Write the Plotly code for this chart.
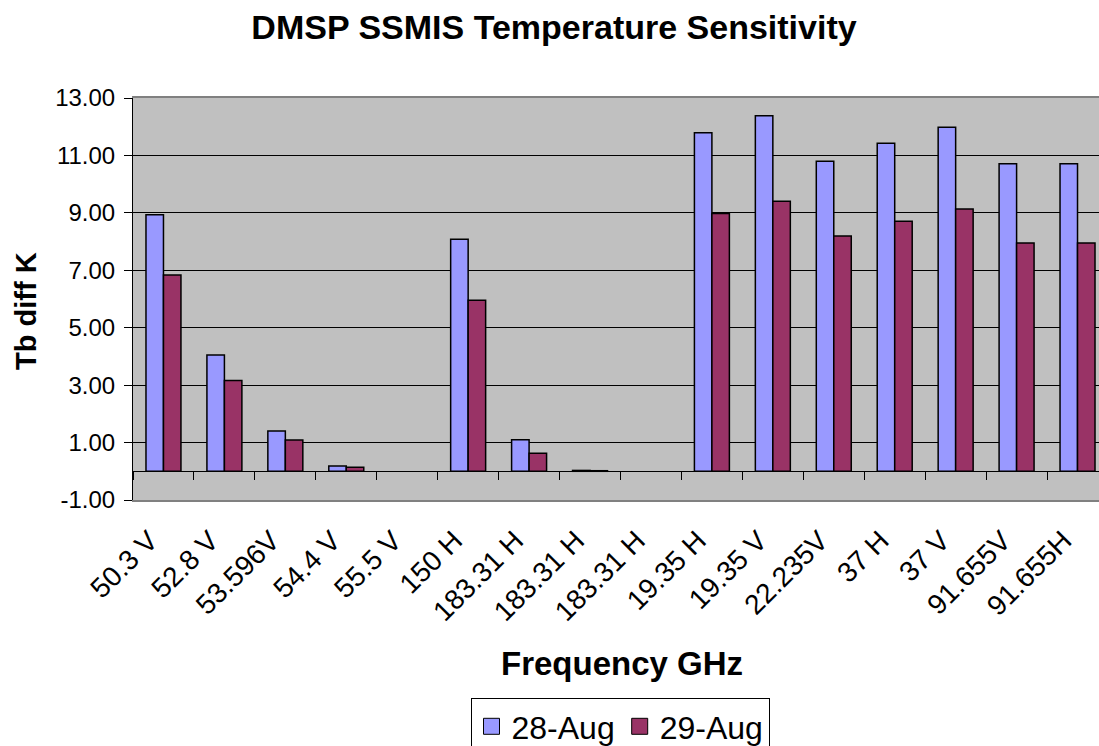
import plotly.graph_objects as go

# Channel labels (several frequencies repeat, so the axis is positional)
channels = ["50.3 V", "52.8 V", "53.596V", "54.4 V", "55.5 V", "150 H",
            "183.31 H", "183.31 H", "183.31 H", "19.35 H", "19.35 V",
            "22.235V", "37 H", "37 V", "91.655V", "91.655H"]

# Brightness-temperature differences (K)
aug28 = [8.93, 4.05, 1.40, 0.18, None, 8.08, 1.10, 0.03, None,
         11.79, 12.38, 10.80, 11.42, 11.98, 10.71, 10.71]
aug29 = [6.84, 3.16, 1.09, 0.14, None, 5.96, 0.63, 0.02, None,
         8.98, 9.40, 8.19, 8.71, 9.13, 7.95, 7.95]

y_ticks = [-1, 1, 3, 5, 7, 9, 11, 13]

COL_28 = "#9999FF"
COL_29 = "#993366"
FONT = "Arial, Liberation Sans, sans-serif"

pos = list(range(len(channels)))
bounds = [i - 0.5 for i in range(len(channels) + 1)]

fig = go.Figure()
fig.add_trace(go.Bar(x=pos, y=aug28, name="28-Aug", marker_color=COL_28,
                     marker_line=dict(color="black", width=1.5), showlegend=False))
fig.add_trace(go.Bar(x=pos, y=aug29, name="29-Aug", marker_color=COL_29,
                     marker_line=dict(color="black", width=1.5), showlegend=False))

# legend entries with larger square swatches
for nm, col in (("28-Aug", COL_28), ("29-Aug", COL_29)):
    fig.add_trace(go.Scatter(x=[None], y=[None], mode="markers", name=nm,
                             marker=dict(symbol="square", size=16, color=col,
                                         line=dict(color="black", width=1))))

# category axis line at y = 0 with ticks between categories
fig.add_trace(go.Scatter(x=[None], y=[None], xaxis="x2", showlegend=False,
                         hoverinfo="skip"))

x_range = [-0.5, len(channels) - 0.5 - 9 / 61]
y_range = [-1, 13]

fig.update_layout(
    width=1099, height=746,
    margin=dict(l=133, r=0, t=98, b=246, autoexpand=False),
    paper_bgcolor="white", plot_bgcolor="#C0C0C0",
    font=dict(family=FONT, color="black"),
    barmode="group", bargap=0.426, bargroupgap=0,
    title=dict(text="<b>DMSP SSMIS Temperature Sensitivity</b>",
               font=dict(size=34, family=FONT, color="black"),
               x=554 / 1099, xanchor="center", xref="container",
               y=1 - 27 / 746, yanchor="middle", yref="container"),
    xaxis=dict(range=x_range, tickvals=pos, ticktext=channels, tickangle=-45,
               tickfont=dict(size=28), ticks="", showgrid=False, zeroline=False,
               showline=True, linecolor="#808080", linewidth=2, mirror=True,
               ticklabelstandoff=11, ticklabelshift=-14, automargin=False),
    xaxis2=dict(overlaying="x", anchor="free", side="bottom",
                position=(0 - y_range[0]) / (y_range[1] - y_range[0]),
                range=x_range, tickvals=bounds, showticklabels=False,
                ticks="outside", ticklen=8, tickcolor="black", tickwidth=1,
                showline=True, linecolor="black", linewidth=1,
                showgrid=False, zeroline=False, automargin=False),
    yaxis=dict(range=y_range, tickvals=y_ticks,
               ticktext=[f"{v:.2f}" for v in y_ticks],
               tickfont=dict(size=24), ticks="outside", ticklen=8,
               tickcolor="black", showline=True, linecolor="black",
               linewidth=1, showgrid=True, gridcolor="black", gridwidth=1,
               zeroline=False, ticklabelstandoff=4, automargin=False),
    legend=dict(orientation="h", xref="container", x=620 / 1099,
                xanchor="center", yref="container", y=1 - 698 / 746,
                yanchor="top", font=dict(size=32), bordercolor="black",
                borderwidth=1, bgcolor="white", itemsizing="trace",
                itemwidth=30, tracegroupgap=0),
    annotations=[
        dict(text="<b>Tb diff K</b>", textangle=-90, xref="paper", yref="paper",
             x=(26 - 133) / 966, y=(500 - 311) / 402, xanchor="center",
             yanchor="middle", showarrow=False, font=dict(size=29)),
        dict(text="<b>Frequency GHz</b>", xref="paper", yref="paper",
             x=(622 - 133) / 966, y=(500 - 663) / 402, xanchor="center",
             yanchor="middle", showarrow=False, font=dict(size=33)),
    ],
)

fig.write_html("out.html")
